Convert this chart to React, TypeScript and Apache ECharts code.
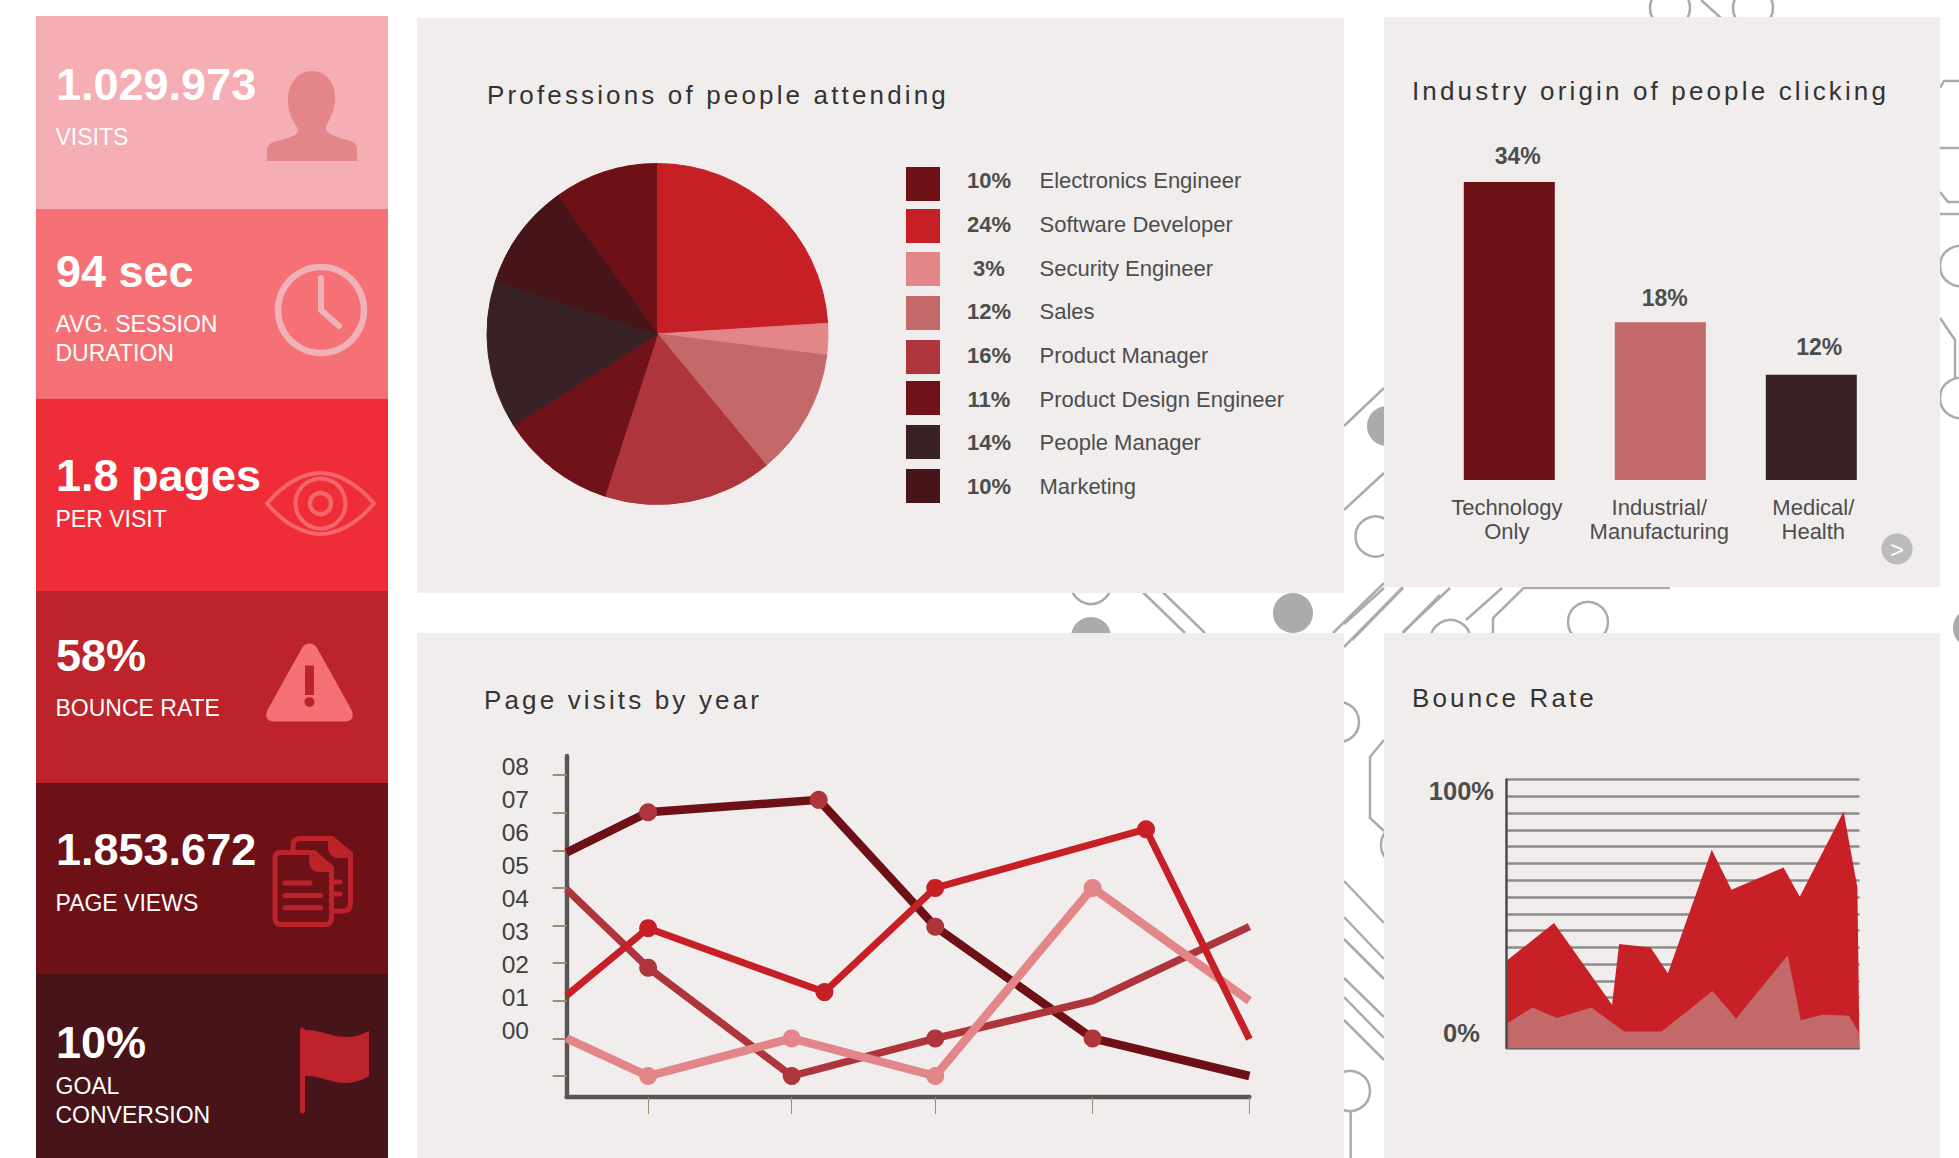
import React, { useEffect, useRef } from "react";
import * as echarts from "echarts";

const FONT = '"Liberation Sans", Arial, sans-serif';
const PANEL = "#F1EDED";
const CIRCUIT = "#ABABAA";
const TEXT_DARK = "#333333";
const TEXT_MID = "#4D4D4D";

// ---------- KPI tiles ----------
const tileValues = ["1.029.973", "94 sec", "1.8 pages", "58%", "1.853.672", "10%"];
const tileLabels = [["VISITS"], ["AVG. SESSION", "DURATION"], ["PER VISIT"], ["BOUNCE RATE"], ["PAGE VIEWS"], ["GOAL", "CONVERSION"]];
const tileColors = ["#F5AEB4", "#F57175", "#EF2D39", "#BC232A", "#6D1117", "#471519"];

// ---------- Pie ----------
const professionNames = ["Electronics Engineer", "Software Developer", "Security Engineer", "Sales", "Product Manager", "Product Design Engineer", "People Manager", "Marketing"];
const professionShares = [10, 24, 3, 12, 16, 11, 14, 10];
const professionColors = ["#6D1117", "#C61F26", "#E28689", "#C46969", "#AE353C", "#6F121A", "#382226", "#47141A"];

// ---------- Bars ----------
const industryNames = ["Technology\nOnly", "Industrial/\nManufacturing", "Medical/\nHealth"];
const industryShares = [34, 18, 12];
const industryColors = ["#6D1117", "#C46969", "#382226"];

// ---------- Lines ----------
const yearTickLabels = ["00", "01", "02", "03", "04", "05", "06", "07", "08"];
const yearTicksY = [0, 1, 2, 3, 4, 5, 6, 7, 8];
const yearTicksX = [11.94, 32.97, 53.99, 77.04, 100];
const visitsDark = [[0, 5.94], [11.94, 7.01], [36.92, 7.34], [53.99, 3.97], [77.04, 1.0], [100, 0]];
const visitsDarkMarked = [11.94, 36.92, 53.99, 77.04];
const visitsMauve = [[0, 4.96], [11.94, 2.88], [32.97, 0], [53.99, 1], [77.04, 2.0], [100, 3.97]];
const visitsMauveMarked = [11.94, 32.97, 53.99];
const visitsPink = [[0, 1], [11.94, 0], [32.97, 1], [53.99, 0], [77.04, 5], [100, 2]];
const visitsPinkMarked = [11.94, 32.97, 53.99, 77.04];
const visitsRed = [[0, 2.14], [11.94, 3.93], [37.76, 2.23], [53.99, 5.0], [84.86, 6.56], [100, 0.98]];
const visitsRedMarked = [11.94, 37.76, 53.99, 84.86];

// ---------- Area ----------
const bounceUpper = [[0, 32.3], [13.6, 46.6], [30, 16.1], [32, 38.7], [40.9, 37.4], [45.8, 27.8], [58.2, 73.8], [63.8, 58.9], [78.5, 67.2], [83.1, 56.3], [95.5, 88.1], [99.4, 59.8], [100, 0]];
const bounceLower = [[0, 8.9], [7.5, 15.1], [14.4, 11.2], [24.2, 15.1], [33.4, 6.1], [44, 6.1], [58.4, 21.2], [65.1, 10.9], [79.7, 34.5], [83.4, 10.3], [89.7, 12.5], [97, 12], [99.7, 6.1], [100, 0]];
const bounceTickValues = [0, 100];

const titles = ["Professions of people attending", "Industry origin of people clicking", "Page visits by year", "Bounce Rate"];

// ---------- Icons ----------
const ICONS: Record<string, string> = {
  iconPerson: "M267 161L267 150C267 146 270 143 274 142C284 139 294 137 297 133C299 130 297 127 295 124C291 118 288 110 288 100C288 83 298 71 312 71C326 71 335 83 335 97C335 109 331 117 328 122C325 127 325 131 330 134C335 137 345 139 350 141C355 142 357 146 357 150L357 161Z",
  iconWarning: "M302 648C305 642 314 642 317 648L351 709C355 716 352 721.5 345 721.5L274 721.5C267 721.5 264 716 268 709Z",
  iconEye: "M267 503.5C285 482 305 473 320.5 473C336 473 356 482 374 503.5C356 525 336 534 320.5 534C305 534 285 525 267 503.5Z",
  iconPageFront: "M275 858Q275 852.5 281 852.5L314 852.5L331.5 868L331.5 918Q331.5 924.5 325 924.5L281 924.5Q275 924.5 275 918Z",
  iconFoldFront: "M309 852L334 872L320 872Q309 872 309 860Z",
  iconPageBack: "M293 850L293 846Q293 838.5 300 838.5L332 838.5L350.5 854L350.5 903Q350.5 911 343 911L334 911",
  iconFoldBack: "M328 838L353 858L339 858Q328 858 328 846Z",
  iconFlag: "M303 1030C320 1029 330 1037 347 1037C356 1037 362 1034 369 1031L369 1076C362 1080 355 1083 346 1083C330 1083 320 1075 303 1076Z",
};
Object.keys(ICONS).forEach((k) => {
  echarts.graphic.registerShape(k, echarts.graphic.extendPath(ICONS[k], {}));
});

// ---------- Layout ----------
const TILE_X = 36;
const TILE_W = 352;
const TILE_EDGES = [16, 209, 399, 591, 783, 974, 1158];
const TILE_VALUE_Y = [84, 271, 475, 655, 849, 1042];
const TILE_LABEL_Y = [[137], [324, 353], [519], [707.5], [903], [1086, 1115]];
const LEGEND_SWATCH_Y = [167, 209, 252, 296, 340, 381, 425, 469];
const LEGEND_TEXT_Y = [180.5, 224.6, 268.6, 311.5, 355.6, 399.6, 442.5, 486.5];
const BAR_LABEL_OFFSETS = [[8.5, 0], [4.5, 2.5], [8, -1]];
const BAR_AXIS_LABEL_PADDING = [[0, 5, 0, 0], [0, 2, 0, 0], [0, 0, 0, 4]];

const CIRCUIT_LINES = [
  [[1701, 0], [1721, 18]],
  [[1940, 88], [1944, 81], [1959, 81]],
  [[1940, 148], [1959, 148]],
  [[1940, 192], [1948, 202], [1959, 202]],
  [[1940, 214], [1959, 214]],
  [[1940, 318], [1955, 340], [1955, 379]],
  [[1344, 426], [1384, 388]],
  [[1344, 510], [1384, 473]],
  [[1344, 624], [1384, 588]],
  [[1352, 640], [1403, 588]],
  [[1403, 632], [1450, 588]],
  [[1466, 620], [1502, 588]],
  [[1493, 633], [1493, 618], [1523.6, 588], [1670, 588]],
  [[1142.7, 592], [1185, 633]],
  [[1162.7, 592], [1205, 633]],
  [[1333, 633], [1384, 583]],
  [[1344, 647], [1403, 587]],
  [[1402.7, 633], [1440, 595]],
  [[1384, 740], [1370, 757], [1370, 818], [1384, 831]],
  [[1344, 881], [1384, 923]],
  [[1344, 917], [1384, 959]],
  [[1344, 939], [1384, 979]],
  [[1344, 978], [1384, 1017]],
  [[1344, 997], [1384, 1038]],
  [[1344, 1020], [1384, 1060]],
  [[1350.7, 1110], [1350.7, 1158]],
];
const CIRCUIT_RINGS = [[1670, 8], [1753, 8], [1960, 266], [1960, 398], [1375.5, 536.5], [1450.5, 640], [1588, 622], [1091, 584], [1339, 722], [1401, 845], [1350, 1091]];
const CIRCUIT_DISCS = [[1387, 426], [1091, 637], [1293, 613], [1973, 628]];

function text(x: number, y: number, t: string, size: number, color: string, opts: any = {}) {
  return {
    type: "text",
    silent: true,
    style: { x, y, text: t, fontSize: size, fontFamily: FONT, fontWeight: opts.weight || "normal", fill: color, align: opts.align || "left", verticalAlign: "middle" },
  };
}

function buildGraphic() {
  const els: any[] = [];
  CIRCUIT_LINES.forEach((points) => els.push({ type: "polyline", silent: true, shape: { points }, style: { fill: "none", stroke: CIRCUIT, lineWidth: 2.5 } }));
  CIRCUIT_RINGS.forEach(([cx, cy]) => els.push({ type: "circle", silent: true, shape: { cx, cy, r: 20 }, style: { fill: "none", stroke: CIRCUIT, lineWidth: 2.5 } }));
  CIRCUIT_DISCS.forEach(([cx, cy]) => els.push({ type: "circle", silent: true, shape: { cx, cy, r: 20 }, style: { fill: CIRCUIT } }));

  [[417, 18, 927, 575], [1384, 17, 556, 570], [417, 633, 927, 525], [1384, 633, 556, 525]].forEach(([x, y, width, height]) =>
    els.push({ type: "rect", silent: true, shape: { x, y, width, height }, style: { fill: PANEL } })
  );

  tileColors.forEach((fill, i) => {
    els.push({ type: "rect", silent: true, shape: { x: TILE_X, y: TILE_EDGES[i], width: TILE_W, height: TILE_EDGES[i + 1] - TILE_EDGES[i] }, style: { fill } });
    els.push(text(56, TILE_VALUE_Y[i], tileValues[i], 45, "#FFFFFF", { weight: "bold" }));
    tileLabels[i].forEach((t, j) => els.push(text(55.5, TILE_LABEL_Y[i][j], t, 23, "#FFFFFF")));
  });

  // icons
  els.push({ type: "iconPerson", silent: true, style: { fill: "#E2868A" } });
  els.push({ type: "circle", silent: true, shape: { cx: 321, cy: 310, r: 43 }, style: { fill: "none", stroke: "#EFB2B6", lineWidth: 6.5 } });
  els.push({ type: "polyline", silent: true, shape: { points: [[321, 278], [321, 310], [339, 326]] }, style: { fill: "none", stroke: "#EFB2B6", lineWidth: 6, lineCap: "round", lineJoin: "round" } });
  els.push({ type: "iconEye", silent: true, style: { fill: "none", stroke: "#F3666C", lineWidth: 4 } });
  els.push({ type: "circle", silent: true, shape: { cx: 320.5, cy: 503.5, r: 25 }, style: { fill: "none", stroke: "#F3666C", lineWidth: 4 } });
  els.push({ type: "circle", silent: true, shape: { cx: 320.5, cy: 503.5, r: 10.5 }, style: { fill: "none", stroke: "#F3666C", lineWidth: 4.5 } });
  els.push({ type: "iconWarning", silent: true, style: { fill: "#F57175" } });
  els.push({ type: "rect", silent: true, shape: { x: 305, y: 665.5, width: 9, height: 29.5 }, style: { fill: "#BC232A" } });
  els.push({ type: "circle", silent: true, shape: { cx: 309.5, cy: 702, r: 5 }, style: { fill: "#BC232A" } });
  els.push({ type: "iconPageBack", silent: true, style: { fill: "none", stroke: "#BC232A", lineWidth: 5 } });
  els.push({ type: "iconFoldBack", silent: true, style: { fill: "#BC232A" } });
  [[333, 882, 340], [333, 894, 340]].forEach(([x1, y, x2]) =>
    els.push({ type: "line", silent: true, shape: { x1, y1: y, x2, y2: y }, style: { stroke: "#BC232A", lineWidth: 5, lineCap: "round" } })
  );
  els.push({ type: "iconPageFront", silent: true, style: { fill: "#6D1117", stroke: "#BC232A", lineWidth: 5 } });
  els.push({ type: "iconFoldFront", silent: true, style: { fill: "#BC232A" } });
  [[285, 883, 310], [285, 895.5, 320.7], [285, 907.7, 320.7]].forEach(([x1, y, x2]) =>
    els.push({ type: "line", silent: true, shape: { x1, y1: y, x2, y2: y }, style: { stroke: "#BC232A", lineWidth: 5, lineCap: "round" } })
  );
  els.push({ type: "iconFlag", silent: true, style: { fill: "#BC232A" } });
  els.push({ type: "line", silent: true, shape: { x1: 302.5, y1: 1030, x2: 302.5, y2: 1111 }, style: { stroke: "#BC232A", lineWidth: 5, lineCap: "round" } });

  // pie legend
  professionNames.forEach((name, i) => {
    els.push({ type: "rect", silent: true, shape: { x: 906, y: LEGEND_SWATCH_Y[i], width: 34, height: 34 }, style: { fill: professionColors[i] } });
    els.push(text(989, LEGEND_TEXT_Y[i], professionShares[i] + "%", 22, TEXT_MID, { weight: "bold", align: "center" }));
    els.push(text(1039.5, LEGEND_TEXT_Y[i], name, 22, TEXT_MID));
  });

  // next button
  els.push({ type: "circle", silent: true, shape: { cx: 1897, cy: 549, r: 15.6 }, style: { fill: "#BBBBBD" } });
  els.push(text(1897, 549, ">", 24, "#FFFFFF", { align: "center" }));
  return els;
}

const TITLE_POS = [[487, 96], [1412, 92], [484, 701], [1412, 699]];

function lineSeries(data: number[][], marked: number[], lineColor: string, markerColor: string, width: number) {
  return {
    type: "line",
    xAxisIndex: 1,
    yAxisIndex: 1,
    data,
    silent: true,
    smooth: false,
    showAllSymbol: true,
    symbol: (v: number[]) => (marked.includes(v[0]) ? "circle" : "none"),
    symbolSize: 18,
    lineStyle: { color: lineColor, width, cap: "butt", join: "miter" },
    itemStyle: { color: markerColor },
  };
}

function areaSeries(data: number[][], color: string) {
  return {
    type: "line",
    xAxisIndex: 2,
    yAxisIndex: 3,
    data,
    silent: true,
    symbol: "none",
    lineStyle: { width: 0 },
    areaStyle: { color, opacity: 1 },
    itemStyle: { color },
  };
}

export default function App() {
  const ref = useRef<HTMLDivElement>(null);
  useEffect(() => {
    const chart = echarts.init(ref.current!, null, { renderer: "svg" });
    chart.setOption({
      animation: false,
      backgroundColor: "#FFFFFF",
      graphic: { elements: buildGraphic() },
      title: titles.map((t, i) => ({
        text: t,
        left: TITLE_POS[i][0],
        top: TITLE_POS[i][1] - 14,
        padding: 0,
        textStyle: { fontSize: 26, fontWeight: "normal", fontFamily: FONT, color: TEXT_DARK },
      })),
      grid: [
        { left: 1433.8, width: 453, top: 182, height: 298 },
        { left: 566.6, right: 1959 - 1249.4, top: 756, height: 341 },
        { left: 1506, right: 99.5, top: 779.5, height: 268.5 },
      ],
      xAxis: [
        {
          type: "category",
          gridIndex: 0,
          data: industryNames.map((value, i) => ({ value, textStyle: { padding: BAR_AXIS_LABEL_PADDING[i] } })),
          axisLine: { show: false },
          axisTick: { show: false },
          axisLabel: { margin: 15, fontSize: 22, lineHeight: 24, fontFamily: FONT, color: TEXT_MID, interval: 0 },
        },
        {
          type: "value",
          gridIndex: 1,
          min: 0,
          max: 100,
          z: 3,
          splitLine: { show: false },
          axisLine: { show: true, onZero: false, lineStyle: { color: "#555555", width: 4.4 } },
          axisTick: { show: true, length: 17, customValues: yearTicksX, lineStyle: { color: "#A88B6C", width: 1 } },
          axisLabel: { show: false },
        },
        {
          type: "value",
          gridIndex: 2,
          min: 0,
          max: 100,
          z: 3,
          splitLine: { show: false },
          axisLine: { show: true, onZero: false, lineStyle: { color: "#666666", width: 1 } },
          axisTick: { show: false },
          axisLabel: { show: false },
        },
      ],
      yAxis: [
        { type: "value", gridIndex: 0, min: 0, max: 34, show: false, splitLine: { show: false } },
        {
          type: "value",
          gridIndex: 1,
          position: "left",
          min: -0.558,
          max: 8.505,
          z: 3,
          splitLine: { show: false },
          axisLine: { show: true, onZero: false, lineStyle: { color: "#555555", width: 4.4 } },
          axisTick: { show: true, length: 14, customValues: yearTicksY, lineStyle: { color: "#A88B6C", width: 2 } },
          axisLabel: { show: false },
        },
        {
          type: "value",
          gridIndex: 1,
          position: "left",
          min: -2,
          max: 8.333,
          splitLine: { show: false },
          axisLine: { show: false, onZero: false },
          axisTick: { show: false },
          axisLabel: {
            show: true,
            customValues: yearTicksY,
            margin: 37.6,
            fontSize: 24.5,
            fontFamily: FONT,
            color: "#3F3F3F",
            formatter: (v: number) => yearTickLabels[v] ?? "",
          },
        },
        {
          type: "value",
          gridIndex: 2,
          position: "left",
          min: 0,
          max: 100,
          interval: 6.25,
          z: 3,
          splitLine: { show: true, lineStyle: { color: "#8E8B8B", width: 2.5 } },
          axisLine: { show: true, onZero: false, lineStyle: { color: "#4D4D4D", width: 2.5 } },
          axisTick: { show: false },
          axisLabel: { show: false },
        },
        {
          type: "value",
          gridIndex: 2,
          position: "left",
          min: -6.2,
          max: 104.76,
          splitLine: { show: false },
          axisLine: { show: false, onZero: false },
          axisTick: { show: false },
          axisLabel: {
            show: true,
            customValues: bounceTickValues,
            margin: 44.6,
            align: "center",
            fontSize: 25.5,
            fontWeight: "bold",
            fontFamily: FONT,
            color: TEXT_MID,
            formatter: (v: number) => v + "%",
          },
        },
      ],
      series: [
        {
          type: "pie",
          silent: true,
          center: [657.5, 334],
          radius: 170.5,
          startAngle: 126,
          clockwise: true,
          label: { show: false },
          labelLine: { show: false },
          data: professionNames.map((name, i) => ({
            name,
            value: professionShares[i],
            itemStyle: { color: professionColors[i], borderColor: professionColors[i], borderWidth: 1 },
          })),
        },
        {
          type: "bar",
          xAxisIndex: 0,
          yAxisIndex: 0,
          silent: true,
          barWidth: 91,
          data: industryShares.map((value, i) => ({
            value,
            itemStyle: { color: industryColors[i] },
            label: { offset: BAR_LABEL_OFFSETS[i] },
          })),
          label: {
            show: true,
            position: "top",
            distance: 15,
            formatter: "{c}%",
            fontSize: 23,
            fontWeight: "bold",
            fontFamily: FONT,
            color: TEXT_MID,
          },
        },
        lineSeries(visitsDark, visitsDarkMarked, "#6D1117", "#AE353C", 8.5),
        lineSeries(visitsMauve, visitsMauveMarked, "#AE353C", "#AE353C", 7.5),
        lineSeries(visitsPink, visitsPinkMarked, "#E28689", "#E28689", 8.5),
        lineSeries(visitsRed, visitsRedMarked, "#C61F26", "#C61F26", 7),
        areaSeries(bounceUpper, "#C72027"),
        areaSeries(bounceLower, "#C46969"),
      ],
    });
    const spaceTitles = () => {
      ref.current?.querySelectorAll("text").forEach((el) => {
        if (titles.includes(el.textContent || "")) el.setAttribute("letter-spacing", "3.15");
      });
    };
    spaceTitles();
    chart.on("finished", spaceTitles);
    return () => chart.dispose();
  }, []);
  return <div ref={ref} style={{ position: "absolute", left: 0, top: 0, width: 1959, height: 1158 }} />;
}
